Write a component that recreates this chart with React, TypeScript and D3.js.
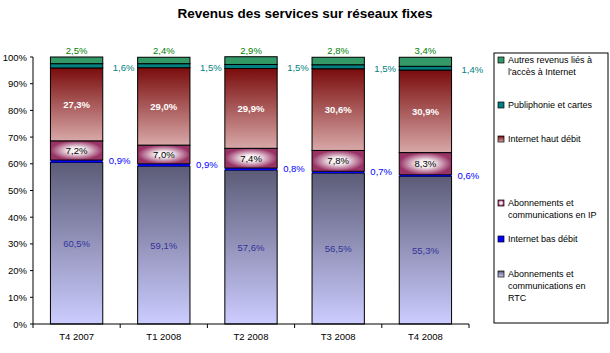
import React from 'react';
import * as d3 from 'd3';

const categories = ['T4 2007', 'T1 2008', 'T2 2008', 'T3 2008', 'T4 2008'];
const rtc = [60.5, 59.1, 57.6, 56.5, 55.3];
const basDebit = [0.9, 0.9, 0.8, 0.7, 0.6];
const ip = [7.2, 7.0, 7.4, 7.8, 8.3];
const hautDebit = [27.3, 29.0, 29.9, 30.6, 30.9];
const publiphonie = [1.6, 1.5, 1.5, 1.5, 1.4];
const autres = [2.5, 2.4, 2.9, 2.8, 3.4];
const yTicks = [0, 10, 20, 30, 40, 50, 60, 70, 80, 90, 100];

const seriesKeys = ['rtc', 'bas', 'ip', 'haut', 'publi', 'autres'];
const legendItems = [
  { key: 'autres', lines: ['Autres revenus liés à', "l'accès à Internet"] },
  { key: 'publi', lines: ['Publiphonie et cartes'] },
  { key: 'haut', lines: ['Internet haut débit'] },
  { key: 'ip', lines: ['Abonnements et', 'communications en IP'] },
  { key: 'bas', lines: ['Internet bas débit'] },
  { key: 'rtc', lines: ['Abonnements et', 'communications en', 'RTC'] },
];

const fills: Record<string, string> = {
  rtc: 'url(#gRtc)',
  bas: '#0000ff',
  ip: 'url(#gIp)',
  haut: 'url(#gHaut)',
  publi: '#008080',
  autres: '#339966',
};

const fmt = (v: number) => v.toFixed(1).replace('.', ',') + '%';

export default function App() {
  const W = 610, H = 353;
  const left = 33, right = 469, top = 57, bottom = 324;
  const font = "'Liberation Sans', Arial, sans-serif";

  const rows = categories.map((c, i) => ({
    cat: c, rtc: rtc[i], bas: basDebit[i], ip: ip[i], haut: hautDebit[i], publi: publiphonie[i], autres: autres[i],
  }));
  const stacked = d3.stack<any>().keys(seriesKeys)(rows);

  const x = d3.scaleBand().domain(categories).range([left, right]).paddingInner(0.4).paddingOuter(0.2);
  const y = d3.scaleLinear().domain([0, 100]).range([bottom, top]);
  const bw = x.bandwidth();
  const step = x.step();

  const seg = (k: string) => stacked[seriesKeys.indexOf(k)];

  const legendY = [63, 108, 142, 206, 242, 277];

  return (
    <svg width={W} height={H} style={{ position: 'absolute', left: 0, top: 0, background: '#fff' }} fontFamily={font}>
      <defs>
        <linearGradient id="gRtc" x1="0" y1="0" x2="0" y2="1">
          <stop offset="0%" stopColor="#5c5c78" />
          <stop offset="100%" stopColor="#ccccff" />
        </linearGradient>
        <linearGradient id="gHaut" x1="0" y1="0" x2="0" y2="1">
          <stop offset="0%" stopColor="#7a0c0c" />
          <stop offset="100%" stopColor="#d8a8a8" />
        </linearGradient>
        <radialGradient id="gIp" cx="0.5" cy="0.5" r="0.5">
          <stop offset="0%" stopColor="#ffffff" />
          <stop offset="35%" stopColor="#f2e8ec" />
          <stop offset="100%" stopColor="#993366" />
        </radialGradient>
      </defs>

      <text x={305} y={18} textAnchor="middle" fontSize={13.5} fontWeight="bold">Revenus des services sur réseaux fixes</text>

      {/* bars */}
      {stacked.map((s) =>
        s.map((d, i) => (
          <rect key={s.key + i} x={x(categories[i])} y={y(d[1])} width={bw} height={y(d[0]) - y(d[1])}
            fill={fills[s.key]} stroke={s.key === 'bas' ? 'none' : '#000'} strokeWidth={1} />
        ))
      )}

      {/* y axis */}
      <line x1={left} x2={left} y1={top} y2={bottom} stroke="#000" />
      {yTicks.map(t => (
        <g key={t}>
          <line x1={left - 3} x2={left} y1={y(t)} y2={y(t)} stroke="#000" />
          <text x={left - 6} y={y(t) + 3.5} textAnchor="end" fontSize={9.5}>{t}%</text>
        </g>
      ))}

      {/* x axis */}
      <line x1={left} x2={right} y1={bottom} y2={bottom} stroke="#000" />
      {d3.range(categories.length + 1).map(i => (
        <line key={i} x1={left + i * step} x2={left + i * step} y1={bottom} y2={bottom + 4} stroke="#000" />
      ))}
      {categories.map(c => (
        <text key={c} x={x(c)! + bw / 2} y={bottom + 16} textAnchor="middle" fontSize={9.5}>{c}</text>
      ))}

      {/* labels */}
      {categories.map((c, i) => {
        const cx = x(c)! + bw / 2;
        const r = seg('rtc')[i], b = seg('bas')[i], p = seg('ip')[i], h = seg('haut')[i], pu = seg('publi')[i], a = seg('autres')[i];
        return (
          <g key={c} fontSize={9.5}>
            <text x={cx} y={y((r[0] + r[1]) / 2) + 3.5} textAnchor="middle" fill="#333399">{fmt(rtc[i])}</text>
            <text x={x(c)! + bw + 6} y={y(b[1]) + 4} fill="#0000ff">{fmt(basDebit[i])}</text>
            <text x={cx} y={y((p[0] + p[1]) / 2) + 3.5} textAnchor="middle" fill="#000">{fmt(ip[i])}</text>
            <text x={cx} y={y((h[0] + h[1]) / 2) + 3.5} textAnchor="middle" fill="#fff" fontWeight="bold">{fmt(hautDebit[i])}</text>
            <text x={x(c)! + bw + 10} y={y(pu[1]) + 7} fill="#008080">{fmt(publiphonie[i])}</text>
            <text x={cx} y={y(a[1]) - 3} textAnchor="middle" fill="#008000">{fmt(autres[i])}</text>
          </g>
        );
      })}

      {/* legend */}
      <rect x={494} y={53} width={114} height={270} fill="#fff" stroke="#000" />
      {legendItems.map((it, i) => (
        <g key={it.key}>
          <rect x={498} y={legendY[i] - 6} width={6} height={6} fill={fills[it.key]} stroke="#000" strokeWidth={0.7} />
          {it.lines.map((ln, j) => (
            <text key={j} x={508} y={legendY[i] + j * 12} fontSize={9}>{ln}</text>
          ))}
        </g>
      ))}
    </svg>
  );
}
